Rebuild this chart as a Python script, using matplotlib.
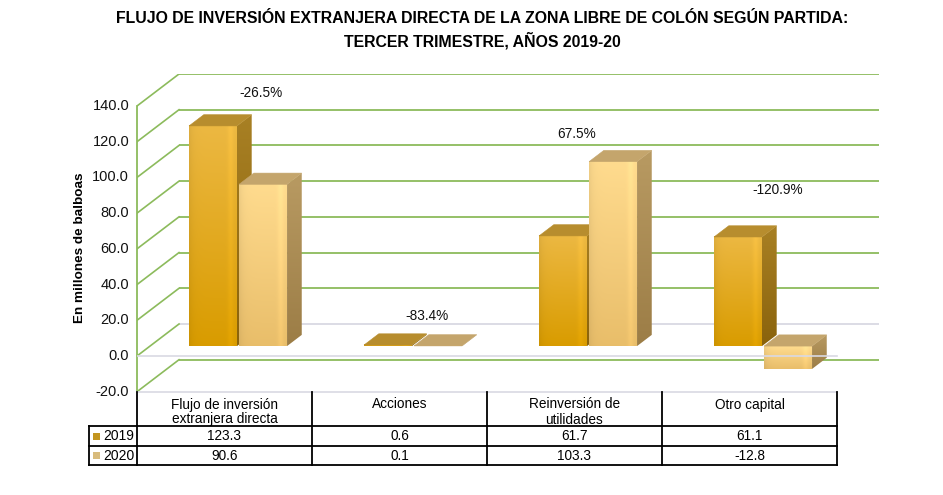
import matplotlib
matplotlib.use("Agg")
import numpy as np
import matplotlib.pyplot as plt
from matplotlib.patches import Polygon, Rectangle
from matplotlib.colors import to_rgb

# ---------------- data ----------------
categories = ["Flujo de inversión\nextranjera directa", "Acciones",
              "Reinversión de\nutilidades", "Otro capital"]
series_names = ["2019", "2020"]
values_2019 = [123.3, 0.6, 61.7, 61.1]
values_2020 = [90.6, 0.1, 103.3, -12.8]
pct_labels = ["-26.5%", "-83.4%", "67.5%", "-120.9%"]
yticks = [-20, 0, 20, 40, 60, 80, 100, 120, 140]
title = "FLUJO DE INVERSIÓN EXTRANJERA DIRECTA DE LA ZONA LIBRE DE COLÓN SEGÚN PARTIDA:\nTERCER TRIMESTRE, AÑOS 2019-20"
ylabel = "En millones de balboas"

# ---------------- layout / style ----------------
plt.rcParams["font.family"] = ["Liberation Sans", "DejaVu Sans"]
W, H = 943, 495
fig = plt.figure(figsize=(W / 100, H / 100), dpi=100)

PX_CAT = 175.0
PX_UNIT = 250.0 / 140.0
DX = 42.0 / PX_CAT          # depth in category units
DY = 32.0 / PX_UNIT         # depth in value units
YMIN, YMAX = -20, 140
left_px, right_px = 137, 137 + 4 * PX_CAT + 42
bot_px = 356 + 20 * PX_UNIT
top_px = 356 - 140 * PX_UNIT - 32

ax = fig.add_axes([left_px / W, 1 - bot_px / H, (right_px - left_px) / W, (bot_px - top_px) / H])
ax.set_xlim(0, 4 + DX)
ax.set_ylim(YMIN, YMAX + DY)
ax.axis("off")

GREEN = "#8cbb5c"
GRAY = "#d9d9e3"
n = len(categories)

# back wall + left wall gridlines
for t in yticks:
    col = GRAY if t == 0 else GREEN
    ax.plot([DX, n + DX], [t + DY, t + DY], color=col, lw=1.3, zorder=1, solid_capstyle="butt")
    ax.plot([0, DX], [t, t + DY], color=GREEN, lw=1.2, zorder=1)
ax.plot([0, 0], [YMIN, YMAX], color=GREEN, lw=1.3, zorder=1, clip_on=False)
ax.plot([0, n], [YMIN, YMIN], color=GRAY, lw=1.2, zorder=1, clip_on=False)

for t in yticks:
    ax.text(-0.045, t, f"{t:.1f}", ha="right", va="center", fontsize=10.5, color="#111111")

# bars
F0, F1 = 0.31, 0.66
BW = 0.274
PITCH = 0.286
OFF = 0.223

styles = {
    0: dict(top=to_rgb("#ecb842"), bot=to_rgb("#d99c00"),
            stop=to_rgb("#a88024"), sbot=to_rgb("#8a630c"), cap="#b78d2e"),
    1: dict(top=to_rgb("#ffdb8e"), bot=to_rgb("#e9be6a"),
            stop=to_rgb("#b89a62"), sbot=to_rgb("#9c7d46"), cap="#c4a56c"),
}


def vgrad(c_top, c_bot, ny=64, nx=32):
    tt = np.linspace(0, 1, ny)[:, None]
    img = np.zeros((ny, nx, 3))
    for c in range(3):
        img[:, :, c] = c_top[c] * (1 - tt) + c_bot[c] * tt
    return img


def draw_bar(i, j, v):
    st = styles[j]
    x0 = i + F0 * DX + OFF + j * PITCH
    yb = F0 * DY
    ylo, yhi = (yb, yb + v) if v >= 0 else (yb + v, yb)
    ddx, ddy = (F1 - F0) * DX, (F1 - F0) * DY
    z = 3 + j * 0.1 + i * 0.01
    img = vgrad(st["top"], st["bot"])
    ss = np.linspace(0, 1, img.shape[1])[None, :]
    shade = 1 - 0.06 * np.exp(-ss / 0.08) + 0.05 * np.exp(-((ss - 0.88) / 0.06) ** 2)
    img = np.clip(img * shade[:, :, None], 0, 1)
    ax.imshow(img, extent=(x0, x0 + BW, ylo, yhi), aspect="auto", origin="upper",
              zorder=z, interpolation="bilinear")
    side = Polygon([(x0 + BW, ylo), (x0 + BW, yhi), (x0 + BW + ddx, yhi + ddy), (x0 + BW + ddx, ylo + ddy)],
                   closed=True, facecolor="none", edgecolor="none", zorder=z)
    ax.add_patch(side)
    simg = vgrad(st["stop"], st["sbot"], nx=8)
    im = ax.imshow(simg, extent=(x0 + BW, x0 + BW + ddx, ylo, yhi + ddy), aspect="auto",
                   origin="upper", zorder=z, interpolation="bilinear")
    im.set_clip_path(side)
    cap = Polygon([(x0, yhi), (x0 + BW, yhi), (x0 + BW + ddx, yhi + ddy), (x0 + ddx, yhi + ddy)],
                  closed=True, facecolor=st["cap"], edgecolor=st["cap"], lw=0.4, zorder=z)
    ax.add_patch(cap)


for i in range(n):
    draw_bar(i, 0, values_2019[i])
    draw_bar(i, 1, values_2020[i])

ax.plot([0, n], [0, 0], color=GRAY, lw=1.2, zorder=5)
ax.set_xlim(0, 4 + DX)
ax.set_ylim(YMIN, YMAX + DY)

# percentage labels
pct_nudge = [(0.21, 24), (0.16, 22), (0.01, 21), (0.16, 32)]
for i in range(n):
    top = max(values_2019[i], values_2020[i])
    ax.text(i + 0.5 + pct_nudge[i][0], top + pct_nudge[i][1], pct_labels[i],
            ha="center", va="center", fontsize=9.8, color="#111111", zorder=10)

# ---------------- data table ----------------
tax = fig.add_axes([0, 0, 1, 1], zorder=5)
tax.set_xlim(0, W)
tax.set_ylim(H, 0)
tax.axis("off")
tax.patch.set_alpha(0)
cols = [left_px + k * PX_CAT for k in range(n + 1)]
r0, r1, r2, r3 = bot_px, 426, 446, 465
lab_left = 89
lk = dict(color="black", lw=1.3, solid_capstyle="projecting")
for k, cx in enumerate(cols):
    tax.plot([cx, cx], [r0, r3], **lk)
tax.plot([lab_left, lab_left], [r1, r3], **lk)
for ry in (r1, r2, r3):
    tax.plot([lab_left, cols[-1]], [ry, ry], **lk)
for k in range(n):
    cx = (cols[k] + cols[k + 1]) / 2
    for li, line in enumerate(categories[k].split("\n")):
        tax.text(cx, 404.5 + 15 * li, line, ha="center", va="center", fontsize=9.8)
    tax.text(cx, (r1 + r2) / 2 + 0.5, f"{values_2019[k]:.1f}", ha="center", va="center", fontsize=9.8)
    tax.text(cx, (r2 + r3) / 2 + 0.5, f"{values_2020[k]:.1f}", ha="center", va="center", fontsize=9.8)
key_cols = ["#c3951f", "#d8bb7c"]
for j, (ry0, ry1) in enumerate([(r1, r2), (r2, r3)]):
    cy = (ry0 + ry1) / 2
    tax.add_patch(Rectangle((93, cy - 3.5), 7, 7, facecolor=key_cols[j], edgecolor="none"))
    tax.text(103, cy + 0.5, series_names[j], ha="left", va="center", fontsize=10)

# ---------------- titles ----------------
fig.text(482 / W, 1 - 30 / H, title, ha="center", va="center", fontsize=11.4, fontweight="bold",
         linespacing=1.4)
fig.text(80 / W, 1 - 248 / H, ylabel, ha="center", va="center", rotation=90, fontsize=9.7,
         fontweight="bold")

fig.savefig("out.png", dpi=100)
